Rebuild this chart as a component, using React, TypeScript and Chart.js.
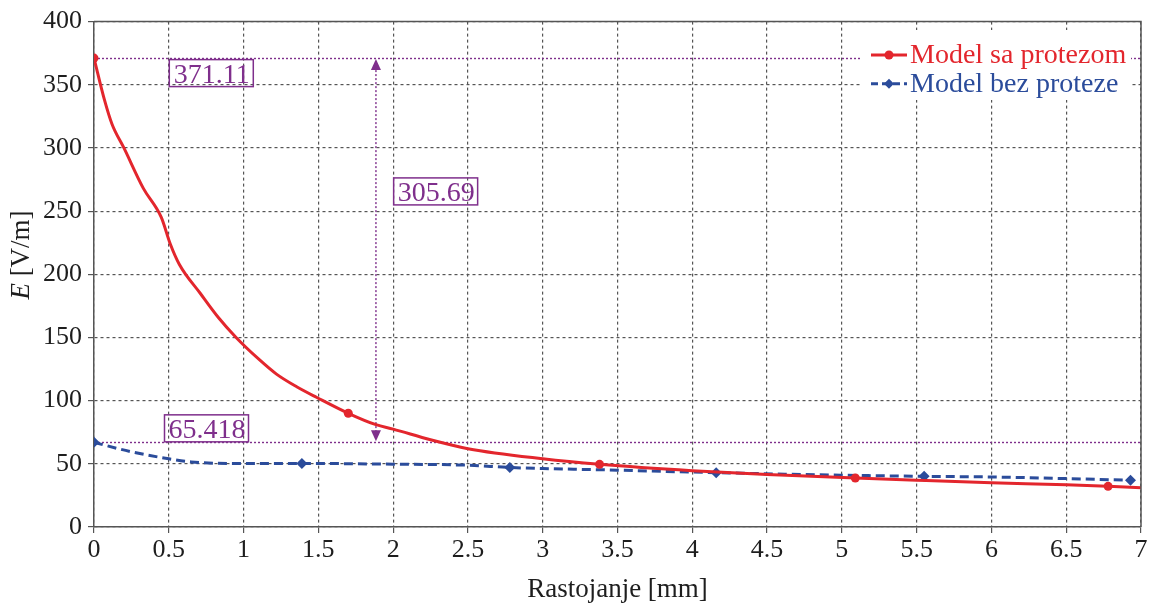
import React, { useEffect, useRef } from 'react';
import { Chart, registerables } from 'chart.js';

Chart.register(...registerables);

// ---- data ----
const xWith = [0, 0.07, 0.12, 0.2, 0.33, 0.45, 0.51, 0.57, 0.71, 0.83, 0.95, 1.1, 1.22, 1.355, 1.49, 1.7, 1.885, 2.0, 2.25, 2.5, 3.0, 3.38, 4.0, 4.5, 5.09, 5.5, 6.0, 6.5, 6.78, 7.0];
const eWith = [371.11, 338, 319, 300, 268, 245, 224, 208, 185, 166, 150, 133, 121, 111, 102.5, 90, 81, 77.5, 69, 62, 54, 49.6, 44.5, 41.5, 38.8, 37, 35, 33.5, 32.2, 31];
const markersWith = [0, 1.7, 3.38, 5.09, 6.78];

const xWithout = [0, 0.25, 0.5, 0.65, 1.0, 1.39, 2.0, 2.5, 2.78, 3.0, 3.5, 4.16, 5.0, 5.55, 6.0, 6.5, 6.93];
const eWithout = [67, 59.5, 54, 51.5, 50.3, 50.3, 49.7, 48.9, 47.1, 46.3, 45, 43, 41, 40.1, 39.6, 38.3, 37];
const markersWithout = [0, 1.39, 2.78, 4.16, 5.55, 6.93];

const seriesLabels = ['Model sa protezom', 'Model bez proteze'];

const refLines = [371.11, 67];
const refLabels = ['371.11', '65.418'];
const refLabelX = [0.5, 0.468];
const diffLabel = '305.69';
const diffLabelX = 2.0;
const diffLabelY = 266;
const arrowX = 1.885;

const xTitle = 'Rastojanje [mm]';
const yTitleItalic = 'E';
const yTitleRest = ' [V/m]';

// ---- styles ----
const RED = '#e3262d';
const BLUE = '#2b4c9b';
const PURPLE = '#7f2f8c';
const AXIS = '#555555';
const TEXT = '#1e1e1e';
const FONT = 'Liberation Serif';

const annotationPlugin = {
  id: 'annotations',
  beforeDatasetsDraw(chart: any) {
    const { ctx, chartArea: a, scales } = chart;
    const xs = scales.x, ys = scales.y;
    ctx.save();
    ctx.strokeStyle = PURPLE;
    ctx.lineWidth = 1.4;
    ctx.setLineDash([2, 2]);
    refLines.forEach((v) => {
      const y = Math.round(ys.getPixelForValue(v)) + 0.5;
      ctx.beginPath();
      ctx.moveTo(a.left, y);
      ctx.lineTo(a.right, y);
      ctx.stroke();
    });
    // vertical double arrow
    const ax = xs.getPixelForValue(arrowX);
    const yTop = ys.getPixelForValue(refLines[0]);
    const yBot = ys.getPixelForValue(refLines[1]);
    ctx.beginPath();
    ctx.moveTo(ax, yTop + 8);
    ctx.lineTo(ax, yBot - 8);
    ctx.stroke();
    ctx.setLineDash([]);
    ctx.fillStyle = PURPLE;
    ctx.beginPath();
    ctx.moveTo(ax, yTop + 1);
    ctx.lineTo(ax - 5, yTop + 12);
    ctx.lineTo(ax + 5, yTop + 12);
    ctx.closePath();
    ctx.fill();
    ctx.beginPath();
    ctx.moveTo(ax, yBot - 1);
    ctx.lineTo(ax - 5, yBot - 12);
    ctx.lineTo(ax + 5, yBot - 12);
    ctx.closePath();
    ctx.fill();
    ctx.restore();
  },
  afterDatasetsDraw(chart: any) {
    const { ctx, scales } = chart;
    const xs = scales.x, ys = scales.y;
    const bw = 84, bh = 27;
    const box = (left: number, top: number, text: string) => {
      ctx.save();
      ctx.strokeStyle = PURPLE;
      ctx.lineWidth = 1.5;
      ctx.strokeRect(left + 0.5, top + 0.5, bw, bh);
      ctx.fillStyle = PURPLE;
      ctx.font = `28px "${FONT}"`;
      ctx.textAlign = 'center';
      ctx.textBaseline = 'alphabetic';
      ctx.fillText(text, left + bw / 2 + 1, top + bh - 3);
      ctx.restore();
    };
    box(xs.getPixelForValue(refLabelX[0]), ys.getPixelForValue(refLines[0]) + 1, refLabels[0]);
    box(xs.getPixelForValue(refLabelX[1]), ys.getPixelForValue(refLines[1]) - bh - 1, refLabels[1]);
    box(xs.getPixelForValue(diffLabelX), ys.getPixelForValue(diffLabelY) - bh / 2, diffLabel);
  },
  afterDraw(chart: any) {
    const { ctx, chartArea: a } = chart;
    ctx.save();
    ctx.strokeStyle = AXIS;
    ctx.lineWidth = 1.5;
    ctx.setLineDash([]);
    ctx.beginPath();
    ctx.moveTo(a.left, a.top);
    ctx.lineTo(a.right, a.top);
    ctx.lineTo(a.right, a.bottom);
    ctx.stroke();

    // legend
    ctx.fillStyle = '#ffffff';
    ctx.fillRect(862, 30, 269, 70);
    const styles = [
      { color: RED, dash: [] as number[], marker: 'circle' },
      { color: BLUE, dash: [7, 4], marker: 'diamond' },
    ];
    chart.data.datasets.forEach((ds: any, i: number) => {
      const st = styles[i];
      const base = 63 + i * 28.7;
      const ly = base - 8;
      ctx.strokeStyle = st.color;
      ctx.lineWidth = 3;
      ctx.setLineDash(st.dash);
      ctx.beginPath();
      ctx.moveTo(871, ly);
      ctx.lineTo(907, ly);
      ctx.stroke();
      ctx.setLineDash([]);
      ctx.fillStyle = st.color;
      ctx.beginPath();
      if (st.marker === 'circle') {
        ctx.arc(889, ly, 4.5, 0, Math.PI * 2);
      } else {
        ctx.moveTo(889, ly - 5);
        ctx.lineTo(894, ly);
        ctx.lineTo(889, ly + 5);
        ctx.lineTo(884, ly);
        ctx.closePath();
      }
      ctx.fill();
      ctx.font = `28px "${FONT}"`;
      ctx.textAlign = 'left';
      ctx.textBaseline = 'alphabetic';
      ctx.fillText(ds.label, 910, base);
    });

    // y title (italic E + normal rest)
    ctx.fillStyle = TEXT;
    ctx.translate(22, 255);
    ctx.rotate(-Math.PI / 2);
    ctx.textBaseline = 'middle';
    ctx.textAlign = 'left';
    ctx.font = `italic 27px "${FONT}"`;
    const w1 = ctx.measureText(yTitleItalic).width;
    ctx.font = `27px "${FONT}"`;
    const w2 = ctx.measureText(yTitleRest).width;
    const start = -(w1 + w2) / 2;
    ctx.font = `italic 27px "${FONT}"`;
    ctx.fillText(yTitleItalic, start, 0);
    ctx.font = `27px "${FONT}"`;
    ctx.fillText(yTitleRest, start + w1, 0);
    ctx.restore();
  },
};

export default function App() {
  const ref = useRef<HTMLCanvasElement | null>(null);

  useEffect(() => {
    document.body.style.margin = '0';
    const canvas = ref.current;
    if (!canvas) return;
    const chart = new Chart(canvas, {
      type: 'line',
      data: {
        datasets: [
          {
            label: seriesLabels[0],
            data: xWith.map((x, i) => ({ x, y: eWith[i] })),
            borderColor: RED,
            backgroundColor: RED,
            borderWidth: 3,
            pointRadius: (c: any) => (markersWith.includes(xWith[c.dataIndex]) ? 4.5 : 0),
            pointStyle: 'circle',
            pointBorderWidth: 0,
            cubicInterpolationMode: 'monotone',
            fill: false,
          },
          {
            label: seriesLabels[1],
            data: xWithout.map((x, i) => ({ x, y: eWithout[i] })),
            borderColor: BLUE,
            backgroundColor: BLUE,
            borderWidth: 3,
            borderDash: [9, 5],
            pointRadius: (c: any) => (markersWithout.includes(xWithout[c.dataIndex]) ? 5.5 : 0),
            pointStyle: 'rectRot',
            pointBorderWidth: 0,
            cubicInterpolationMode: 'monotone',
            fill: false,
          },
        ],
      },
      options: {
        animation: false,
        responsive: true,
        maintainAspectRatio: false,
        layout: { padding: { left: 0, top: 21, right: 14, bottom: 0 } },
        plugins: { legend: { display: false }, tooltip: { enabled: false } },
        scales: {
          x: {
            type: 'linear',
            min: 0,
            max: 7,
            ticks: {
              stepSize: 0.5,
              color: TEXT,
              font: { family: FONT, size: 26 },
              padding: 2,
              maxRotation: 0,
              autoSkip: false,
              callback: (v: any) => String(v),
            },
            grid: { color: AXIS, lineWidth: 1.2, tickLength: 6, tickColor: AXIS, tickWidth: 1.2, tickBorderDash: [] },
            border: { display: true, color: AXIS, width: 1.5, dash: [3, 3] },
            title: {
              display: true,
              text: xTitle,
              color: TEXT,
              font: { family: FONT, size: 27 },
              padding: { top: 0, bottom: 2 },
            },
            afterFit: (s: any) => {
              s.height = 81;
            },
          },
          y: {
            type: 'linear',
            min: 0,
            max: 400,
            ticks: {
              stepSize: 50,
              color: TEXT,
              font: { family: FONT, size: 26 },
              padding: 6,
              callback: (v: any) => String(v),
            },
            grid: { color: AXIS, lineWidth: 1.2, tickLength: 6, tickColor: AXIS, tickWidth: 1.2, tickBorderDash: [] },
            border: { display: true, color: AXIS, width: 1.5, dash: [3, 3] },
            afterFit: (s: any) => {
              s.width = 94;
            },
          },
        },
      } as any,
      plugins: [annotationPlugin],
    });
    return () => chart.destroy();
  }, []);

  return (
    <div style={{ width: 1155, height: 608, position: 'relative', background: '#fff' }}>
      <canvas ref={ref} />
    </div>
  );
}
